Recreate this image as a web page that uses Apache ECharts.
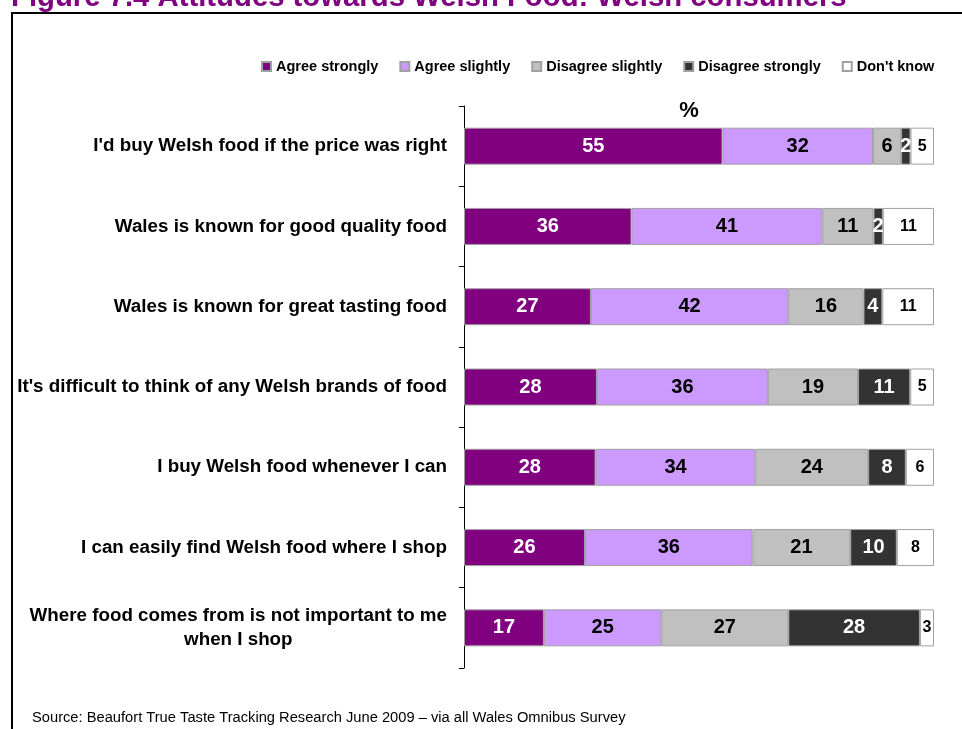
<!DOCTYPE html>
<html>
<head>
<meta charset="utf-8">
<script src="https://cdn.jsdelivr.net/npm/echarts@6/dist/echarts.min.js"></script>
<style>
html,body{margin:0;padding:0;background:#fff;}
#chart{width:962px;height:729px;}
</style>
</head>
<body>
<div id="chart"></div>
<script>
var categories = [
  "I'd buy Welsh food if the price was right",
  "Wales is known for good quality food",
  "Wales is known for great tasting food",
  "It's difficult to think of any Welsh brands of food",
  "I buy Welsh food whenever I can",
  "I can easily find Welsh food where I shop",
  "Where food comes from is not important to me\nwhen I shop"
];
var seriesNames = ["Agree strongly", "Agree slightly", "Disagree slightly", "Disagree strongly", "Don't know"];
var agreeStrongly    = [55, 36, 27, 28, 28, 26, 17];
var agreeSlightly    = [32, 41, 42, 36, 34, 36, 25];
var disagreeSlightly = [6, 11, 16, 19, 24, 21, 27];
var disagreeStrongly = [2, 2, 4, 11, 8, 10, 28];
var dontKnow         = [5, 11, 11, 5, 6, 8, 3];

var FONT = "'Liberation Sans', Arial, sans-serif";
var allSeries = [agreeStrongly, agreeSlightly, disagreeSlightly, disagreeStrongly, dontKnow];
var colors = ['#800080', '#CC99FF', '#C0C0C0', '#333333', '#FFFFFF'];
var labelColors = ['#FFFFFF', '#000000', '#000000', '#FFFFFF', '#000000'];
var labelSizes = [20, 20, 20, 20, 16];

// 100% stacked: each row normalized to its own total
var rowTotals = categories.map(function (_, i) {
  return allSeries.reduce(function (s, arr) { return s + arr[i]; }, 0);
});

var series = allSeries.map(function (arr, k) {
  return {
    name: seriesNames[k],
    type: 'bar',
    stack: 'total',
    barWidth: 37,
    data: arr.map(function (v, i) { return { value: v / rowTotals[i] * 100, raw: v }; }),
    itemStyle: { color: colors[k], borderColor: '#A0A0A0', borderWidth: 1 },
    label: {
      show: true,
      position: 'inside',
      color: labelColors[k],
      fontFamily: FONT,
      fontWeight: 'bold',
      fontSize: labelSizes[k],
      formatter: function (p) { return String(p.data.raw); }
    },
    emphasis: { disabled: true }
  };
});

var chart = echarts.init(document.getElementById('chart'), null, { renderer: 'canvas' });
chart.setOption({
  animation: false,
  backgroundColor: '#FFFFFF',
  grid: { left: 464, right: 28, top: 106, bottom: 61, containLabel: false },
  legend: {
    data: seriesNames,
    left: 256,
    top: 54,
    icon: 'rect',
    itemWidth: 9,
    itemHeight: 9,
    itemGap: 21,
    selectedMode: false,
    textStyle: { fontFamily: FONT, fontWeight: 'bold', fontSize: 14.5, color: '#000' }
  },
  xAxis: {
    type: 'value',
    min: 0,
    max: 100,
    show: false
  },
  yAxis: {
    type: 'category',
    data: categories,
    inverse: true,
    axisLine: { show: true, lineStyle: { color: '#000', width: 1 } },
    axisTick: { show: true, length: 5, inside: false, lineStyle: { color: '#000', width: 1 } },
    axisLabel: {
      margin: 17,
      color: '#000',
      fontFamily: FONT,
      fontWeight: 'bold',
      fontSize: 18.8,
      lineHeight: 24,
      formatter: function (v) {
        return v.split('\n').map(function (l) { return '{c|' + l + '}'; }).join('\n');
      },
      rich: {
        c: { align: 'center', fontFamily: FONT, fontWeight: 'bold', fontSize: 18.8, lineHeight: 24, color: '#000' }
      }
    }
  },
  series: series,
  graphic: [
    {
      type: 'rect',
      shape: { x: 12, y: 13, width: 1000, height: 800 },
      style: { fill: 'none', stroke: '#000', lineWidth: 2 },
      silent: true
    },
    {
      type: 'text',
      x: 11,
      y: -2,
      style: {
        text: 'Figure 7.4 Attitudes towards Welsh Food: Welsh consumers',
        fill: '#800080',
        font: 'bold 29.3px ' + FONT,
        verticalAlign: 'middle'
      },
      silent: true
    },
    {
      type: 'text',
      x: 689,
      y: 111,
      style: {
        text: '%',
        fill: '#000',
        font: 'bold 22px ' + FONT,
        align: 'center',
        verticalAlign: 'middle'
      },
      silent: true
    },
    {
      type: 'text',
      x: 32,
      y: 718,
      style: {
        text: 'Source: Beaufort True Taste Tracking Research June 2009 \u2013 via all Wales Omnibus Survey',
        fill: '#000',
        font: '14.7px ' + FONT,
        align: 'left',
        verticalAlign: 'middle'
      },
      silent: true
    }
  ]
});
</script>
</body>
</html>
